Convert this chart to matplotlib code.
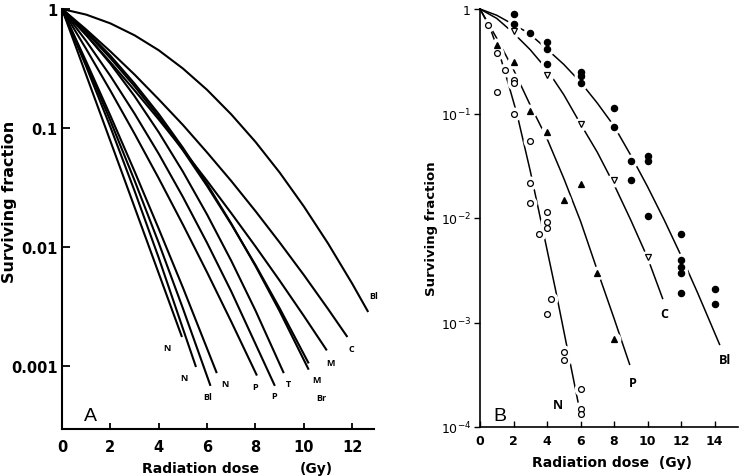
import matplotlib
matplotlib.use("Agg")
import matplotlib.pyplot as plt
from matplotlib.ticker import FixedLocator, FixedFormatter, NullLocator

# ---------------- Panel A : fitted survival curves ----------------
a_labels = ["N", "N", "Bl", "N", "P", "P", "T", "M", "Br", "M", "C", "Bl"]

a_dose_N1 = [0, 2.5, 4.96]
a_sf_N1 = [1, 0.041, 0.00175]
a_dose_N2 = [0, 1, 2, 3, 4, 5.54]
a_sf_N2 = [1, 0.329, 0.102, 0.0296, 0.0081, 0.00098]
a_dose_Bl1 = [0, 1, 2, 3, 4, 5, 6.14]
a_sf_Bl1 = [1, 0.349, 0.115, 0.0362, 0.0108, 0.00304, 0.00068]
a_dose_N3 = [0, 1, 2, 3, 4, 5, 6.4]
a_sf_N3 = [1, 0.362, 0.127, 0.0432, 0.0142, 0.00455, 0.00087]
a_dose_P1 = [0, 1, 2, 3, 4, 5, 6, 7, 8.06]
a_sf_P1 = [1, 0.461, 0.206, 0.0894, 0.0377, 0.0154, 0.00611, 0.00235, 0.00083]
a_dose_P2 = [0, 1, 2, 3, 4, 5, 6, 7, 8.8]
a_sf_P2 = [1, 0.538, 0.274, 0.132, 0.0606, 0.0263, 0.0108, 0.00422, 0.00068]
a_dose_T = [0, 1, 2, 3, 4, 5, 6, 7, 8, 9.17]
a_sf_T = [1, 0.608, 0.347, 0.185, 0.092, 0.0429, 0.0187, 0.00764, 0.00292, 0.00087]
a_dose_M1 = [0, 1, 2, 3, 4, 5, 6, 7, 8, 9, 10.2]
a_sf_M1 = [1, 0.654, 0.405, 0.236, 0.131, 0.0682, 0.0337, 0.0157, 0.00692, 0.00288, 0.00093]
a_dose_Br = [0, 1, 2, 3, 4, 5, 6, 7, 8, 9, 10.2]
a_sf_Br = [1, 0.637, 0.387, 0.224, 0.124, 0.0649, 0.0325, 0.0155, 0.00705, 0.00305, 0.00105]
a_dose_M2 = [0, 1, 2, 3, 4, 5, 6, 7, 8, 9, 10, 10.95]
a_sf_M2 = [1, 0.603, 0.357, 0.207, 0.118, 0.0657, 0.0359, 0.0192, 0.0101, 0.00521, 0.00263, 0.00135]
a_dose_C = [0, 1, 2, 3, 4, 5, 6, 7, 8, 9, 10, 11, 11.8]
a_sf_C = [1, 0.672, 0.440, 0.281, 0.174, 0.106, 0.0622, 0.0358, 0.0200, 0.0109, 0.00581, 0.00301, 0.00175]
a_dose_Bl2 = [0, 1, 2, 3, 4, 5, 6, 7, 8, 9, 10, 11, 12, 12.66]
a_sf_Bl2 = [1, 0.897, 0.757, 0.601, 0.450, 0.316, 0.209, 0.130, 0.0764, 0.0422, 0.0219, 0.0107, 0.00491, 0.00284]

a_xticks = [0, 2, 4, 6, 8, 10, 12]
a_yticks = [1, 0.1, 0.01, 0.001]
a_yticklabels = ["1", "0.1", "0.01", "0.001"]

# ---------------- Panel B : measured points + fits ----------------
b_N_dose = [0.5, 1, 1.5, 2, 2, 1, 2, 3, 3, 3, 4, 4, 4, 3.5, 4.25, 4, 5, 5, 6, 6, 6]
b_N_sf = [0.70, 0.38, 0.26, 0.21, 0.195, 0.16, 0.100, 0.055, 0.0215, 0.014, 0.0113,
          0.0091, 0.0080, 0.0071, 0.00167, 0.0012, 0.00052, 0.00044, 0.00023,
          0.000148, 0.000132]
b_P_dose = [1, 2, 3, 4, 6, 5, 7, 8]
b_P_sf = [0.455, 0.31, 0.106, 0.067, 0.021, 0.015, 0.0030, 0.00069]
b_C_dose = [2, 4, 6, 8, 10]
b_C_sf = [0.61, 0.235, 0.079, 0.023, 0.0042]
b_Bl_dose = [2, 2, 3, 4, 4, 4, 6, 6, 6, 8, 8, 9, 10, 10, 9, 10, 12, 12, 12, 12, 12, 14, 14]
b_Bl_sf = [0.90, 0.72, 0.59, 0.48, 0.41, 0.30, 0.25, 0.23, 0.195, 0.112, 0.074, 0.035,
           0.039, 0.035, 0.023, 0.0105, 0.0071, 0.0040, 0.0034, 0.0030, 0.0019,
           0.0021, 0.0015]

b_fit_N_dose = [0, 0.6, 1.2, 1.7, 2.2, 3.0, 3.6, 4.5, 5.85]
b_fit_N_sf = [1, 0.6607, 0.3548, 0.1905, 0.1, 0.02818, 0.01, 0.002089, 0.000174]
b_fit_P_dose = [0, 1, 2, 3, 4, 5, 6, 7, 8, 8.93]
b_fit_P_sf = [1, 0.5248, 0.2630, 0.1202, 0.05754, 0.02399, 0.00933, 0.003162, 0.001096, 0.000398]
b_fit_C_dose = [0, 1, 2, 3, 4, 5, 6, 7, 8, 9, 10, 10.9]
b_fit_C_sf = [1, 0.8128, 0.5888, 0.4074, 0.2630, 0.1514, 0.07943, 0.04266, 0.02089,
              0.00955, 0.004169, 0.001698]
b_fit_Bl_dose = [0, 1, 1.9, 2.9, 3.9, 5, 6, 7, 8, 9, 10, 11, 12, 13, 14.3]
b_fit_Bl_sf = [1, 0.871, 0.724, 0.589, 0.4266, 0.2951, 0.1995, 0.1259, 0.0759, 0.0398,
               0.01995, 0.00955, 0.004365, 0.001905, 0.000617]

b_xticks = [0, 2, 4, 6, 8, 10, 12, 14]
b_yticks = [1, 1e-1, 1e-2, 1e-3, 1e-4]
b_yticklabels = ["1", r"$10^{-1}$", r"$10^{-2}$", r"$10^{-3}$", r"$10^{-4}$"]
b_labels = ["N", "P", "C", "Bl"]

# ---------------- Figure ----------------
W, H = 740, 477
fig = plt.figure(figsize=(W / 100, H / 100), dpi=100)
BOLD = dict(family="DejaVu Sans", weight="bold")

# ---- Panel A
axA = fig.add_axes([62 / W, (H - 430) / H, 312 / W, 420 / H])
axA.set_yscale("log")
a_curves = [
    (a_dose_N1, a_sf_N1), (a_dose_N2, a_sf_N2), (a_dose_Bl1, a_sf_Bl1),
    (a_dose_N3, a_sf_N3), (a_dose_P1, a_sf_P1), (a_dose_P2, a_sf_P2),
    (a_dose_T, a_sf_T), (a_dose_M1, a_sf_M1), (a_dose_Br, a_sf_Br),
    (a_dose_M2, a_sf_M2), (a_dose_C, a_sf_C), (a_dose_Bl2, a_sf_Bl2),
]
a_offsets = [(-15, -10), (-12, -11), (-3, -11), (8, -10), (-2, -11), (-1, -10),
             (5, -10), (8, -10), (13, -34), (4, -12), (4, -11), (5, 16)]
for (d, s), lab, off in zip(a_curves, a_labels, a_offsets):
    axA.plot(d, s, color="black", lw=1.5, solid_capstyle="butt", clip_on=False)
    axA.annotate(lab, xy=(d[-1], s[-1]), xytext=off, textcoords="offset pixels",
                 ha="center", va="center", fontsize=6.5, family="Open Sans",
                 weight="bold")
axA.set_xlim(0, 12.9)
axA.set_ylim(2.95e-4, 1)
for sp in ["top", "right"]:
    axA.spines[sp].set_visible(False)
for sp in ["left", "bottom"]:
    axA.spines[sp].set_linewidth(1.5)
axA.xaxis.set_major_locator(FixedLocator(a_xticks))
axA.yaxis.set_major_locator(FixedLocator(a_yticks))
axA.yaxis.set_major_formatter(FixedFormatter(a_yticklabels))
axA.yaxis.set_minor_locator(NullLocator())
axA.tick_params(axis="y", direction="in", length=6, width=1.3, pad=3)
axA.tick_params(axis="x", direction="in", length=4, width=1.3, pad=7)
for t in axA.get_xticklabels() + axA.get_yticklabels():
    t.set_fontsize(10.5)
    t.set_fontweight("bold")
    t.set_family("DejaVu Sans")

fig.text(10 / W, 1 - 202 / H, "Surviving fraction", rotation=90, ha="center",
         va="center", fontsize=11.5, **BOLD)
fig.text(201 / W, 1 - 473 / H, "Radiation dose", ha="center", va="baseline",
         fontsize=10, **BOLD)
fig.text(316 / W, 1 - 473 / H, "(Gy)", ha="center", va="baseline",
         fontsize=10, **BOLD)
fig.text(90 / W, 1 - 417 / H, "A", ha="center", va="center", fontsize=14,
         family="Liberation Sans")

# ---- Panel B
axB = fig.add_axes([480 / W, (H - 428) / H, 258 / W, 418 / H])
axB.set_yscale("log")
b_fits = [(b_fit_N_dose, b_fit_N_sf), (b_fit_P_dose, b_fit_P_sf),
          (b_fit_C_dose, b_fit_C_sf), (b_fit_Bl_dose, b_fit_Bl_sf)]
b_offsets = [(-20, -3), (3, -18), (2, -15), (5, -15)]
for (d, s), lab, off in zip(b_fits, b_labels, b_offsets):
    axB.plot(d, s, color="black", lw=1.1, zorder=2, clip_on=False)
    axB.annotate(lab, xy=(d[-1], s[-1]), xytext=off, textcoords="offset pixels",
                 ha="center", va="center", fontsize=9, family="Open Sans",
                 weight="bold")

b_points = [
    (b_N_dose, b_N_sf, "o", "white", 4.2),
    (b_P_dose, b_P_sf, "^", "black", 5.0),
    (b_C_dose, b_C_sf, "v", "white", 5.0),
    (b_Bl_dose, b_Bl_sf, "o", "black", 4.5),
]
for d, s, m, fc, ms in b_points:
    axB.plot(d, s, ls="none", marker="o", ms=9, mfc="white", mec="white",
             zorder=3, clip_on=False)
for d, s, m, fc, ms in b_points:
    axB.plot(d, s, ls="none", marker=m, ms=ms, mfc=fc, mec="black", mew=0.9,
             zorder=4, clip_on=False)

axB.set_xlim(0, 15.4)
axB.set_ylim(1e-4, 1)
for sp in ["top", "right"]:
    axB.spines[sp].set_visible(False)
for sp in ["left", "bottom"]:
    axB.spines[sp].set_linewidth(1.2)
axB.xaxis.set_major_locator(FixedLocator(b_xticks))
axB.yaxis.set_major_locator(FixedLocator(b_yticks))
axB.yaxis.set_major_formatter(FixedFormatter(b_yticklabels))
axB.yaxis.set_minor_locator(NullLocator())
axB.tick_params(axis="y", direction="out", length=4.5, width=1.0, pad=2,
                labelsize=9)
axB.tick_params(axis="x", direction="in", length=4, width=1.0, pad=5)
for t in axB.get_xticklabels():
    t.set_fontsize(9)
    t.set_fontweight("bold")
    t.set_family("DejaVu Sans")

fig.text(431 / W, 1 - 229 / H, "Surviving fraction", rotation=90, ha="center",
         va="center", fontsize=9.5, **BOLD)
fig.text(612 / W, 1 - 467 / H, "Radiation dose  (Gy)", ha="center",
         va="baseline", fontsize=10, **BOLD)
fig.text(500 / W, 1 - 417 / H, "B", ha="center", va="center", fontsize=14,
         family="Liberation Sans")

fig.savefig("out.png", dpi=100)
